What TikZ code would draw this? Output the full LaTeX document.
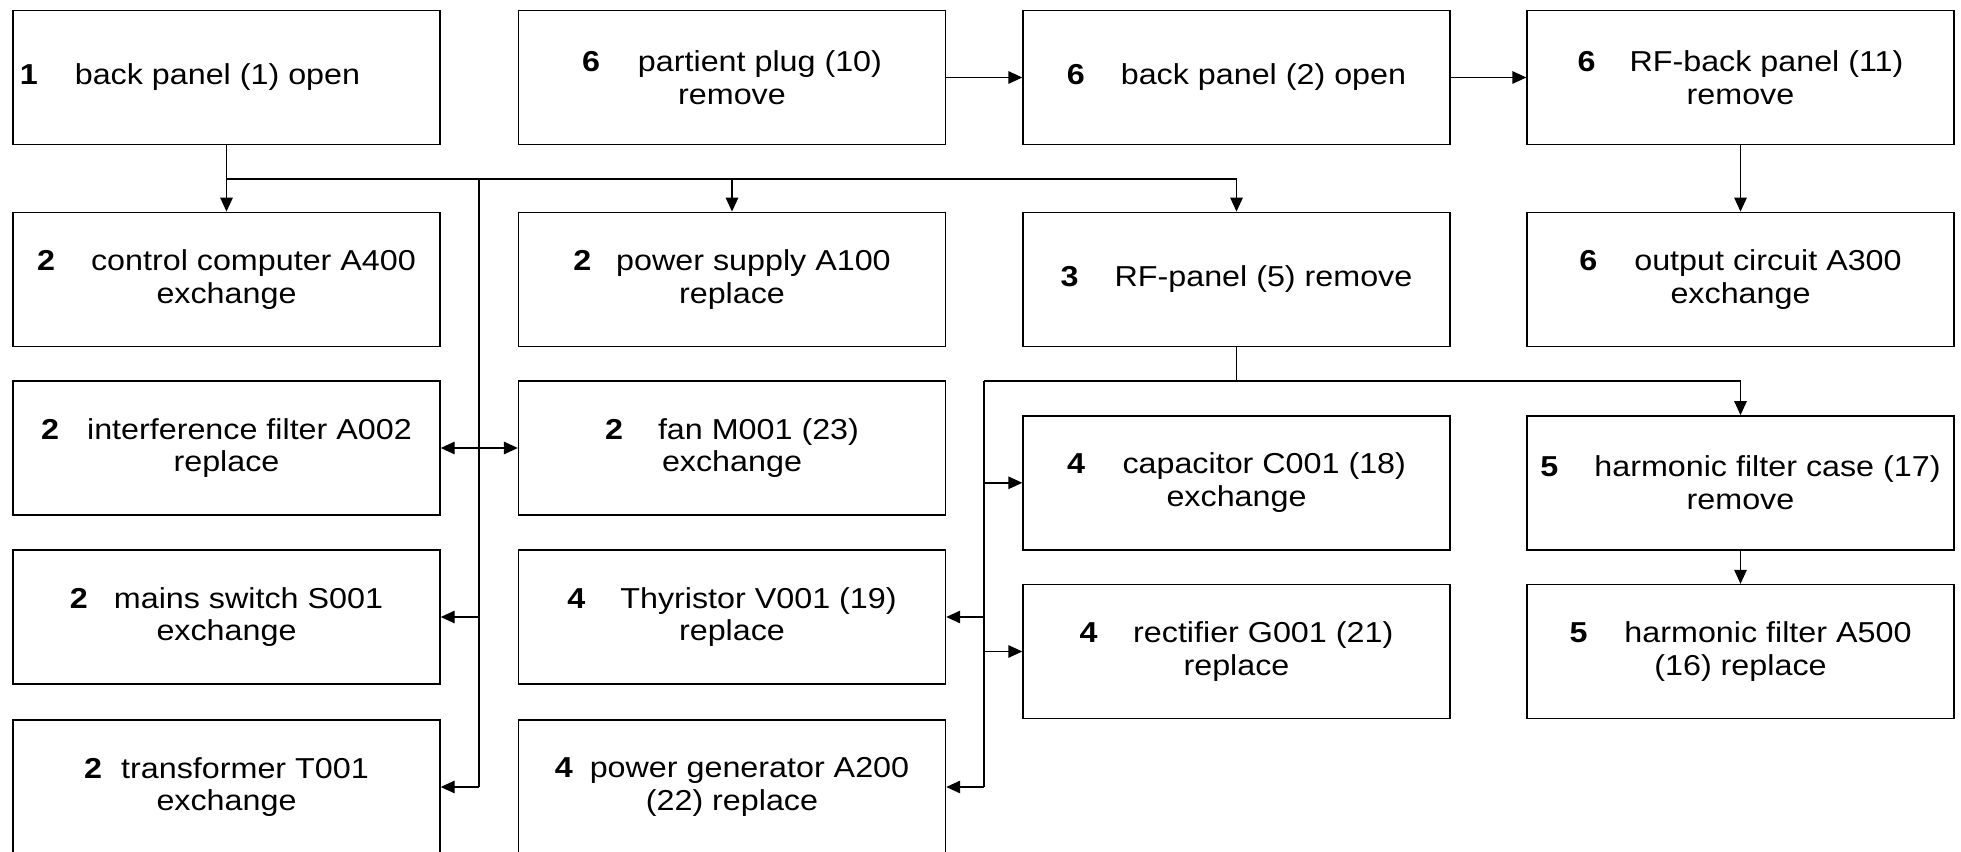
\documentclass[tikz,border=0pt]{standalone}
\usepackage{fontspec}
\setmainfont{Liberation Sans}[FakeStretch=1.12]
\usepackage{tikz}
\usetikzlibrary{arrows.meta}

\tikzset{
  task/.style={draw=black, line width=0.4pt, minimum width=4.27cm, minimum height=1.34cm,
    inner sep=0pt, align=center, font=\fontsize{8.2}{9.28}\selectfont},
  link/.style={draw=black, line width=0.4pt},
  arr/.style={link, -{Triangle[length=0.14cm,width=0.125cm]}}
}
\newcommand{\nr}[2][0.36cm]{\textbf{#2}\hspace{#1}}

\begin{document}
\begin{tikzpicture}
  \useasboundingbox (0,0) rectangle (19.61,-8.52);
  \clip (0,0) rectangle (19.61,-8.52);

  % first row
  \node[task] (backPanelOne) at (2.265,-0.775) {\nr[0.37cm]{1}back panel (1) open\hspace*{0.73cm}};
  \node[task] (plug) at (7.32,-0.775) {\nr[0.38cm]{6}partient plug (10)\\remove};
  \node[task] (backPanelTwo) at (12.365,-0.775) {\nr{6}back panel (2) open};
  \node[task] (rfBackPanel) at (17.405,-0.775) {\nr[0.34cm]{6}RF-back panel (11)\\remove};

  % second row
  \node[task] (ctrlComputer) at (2.265,-2.793) {\nr{2}control computer A400\\exchange};
  \node[task] (powerSupply) at (7.32,-2.793) {\nr[0.25cm]{2}power supply A100\\replace};
  \node[task] (rfPanel) at (12.365,-2.793) {\nr{3}RF-panel (5) remove};
  \node[task] (outputCircuit) at (17.405,-2.793) {\nr[0.37cm]{6}output circuit A300\\exchange};

  % left columns
  \node[task] (filter) at (2.265,-4.48) {\nr[0.28cm]{2}interference filter A002\\replace};
  \node[task] (fan) at (7.32,-4.48) {\nr[0.35cm]{2}fan M001 (23)\\exchange};
  \node[task] (mainsSwitch) at (2.265,-6.17) {\nr[0.26cm]{2}mains switch S001\\exchange};
  \node[task] (thyristor) at (7.32,-6.17) {\nr[0.35cm]{4}Thyristor V001 (19)\\replace};
  \node[task] (transformer) at (2.265,-7.87) {\nr[0.19cm]{2}transformer T001\\exchange};
  \node[task] (generator) at (7.32,-7.87) {\nr[0.17cm]{4}power generator A200\\(22) replace};

  % right columns
  \node[task] (capacitor) at (12.365,-4.828) {\nr[0.375cm]{4}capacitor C001 (18)\\exchange};
  \node[task] (filterCase) at (17.405,-4.828) {\nr{5}harmonic filter case (17)\\remove};
  \node[task] (rectifier) at (12.365,-6.515) {\nr[0.355cm]{4}rectifier G001 (21)\\replace};
  \node[task] (harmonicFilter) at (17.405,-6.515) {\nr[0.37cm]{5}harmonic filter A500\\(16) replace};

  \coordinate (busA) at (4.79,-1.79);
  \coordinate (busB) at (9.84,-3.81);

  % back panel (1) branches
  \draw[link] (backPanelOne.south) |- (busA -| rfPanel.north);
  \draw[arr] (backPanelOne.south |- busA) -- (ctrlComputer.north);
  \draw[arr] (busA -| powerSupply.north) -- (powerSupply.north);
  \draw[arr] (busA -| rfPanel.north) -- (rfPanel.north);
  \draw[link] (busA) -- (busA |- transformer.east);
  \foreach \n in {filter,mainsSwitch,transformer}
    \draw[arr] (busA |- \n.east) -- (\n.east);
  \draw[arr] (busA |- fan.west) -- (fan.west);

  % top chain
  \draw[arr] (plug) -- (backPanelTwo);
  \draw[arr] (backPanelTwo) -- (rfBackPanel);
  \draw[arr] (rfBackPanel) -- (outputCircuit);

  % RF-panel branches
  \draw[link] (rfPanel.south) -- (rfPanel.south |- busB);
  \draw[arr] (busB) -| (filterCase.north);
  \draw[link] (busB) -- (busB |- generator.east);
  \foreach \n in {capacitor,rectifier}
    \draw[arr] (busB |- \n.west) -- (\n.west);
  \foreach \n in {thyristor,generator}
    \draw[arr] (busB |- \n.east) -- (\n.east);
  \draw[arr] (filterCase) -- (harmonicFilter);
\end{tikzpicture}
\end{document}
